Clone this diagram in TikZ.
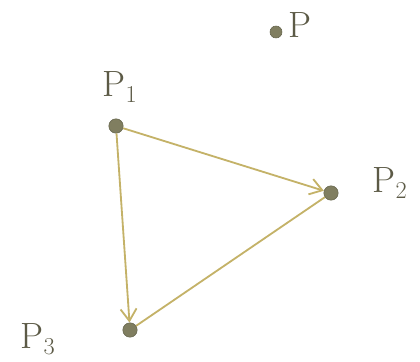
\documentclass[tikz,border=0pt]{standalone}
\usetikzlibrary{arrows.meta}
\definecolor{dotc}{RGB}{128,126,96}
\definecolor{linec}{RGB}{196,178,104}
\definecolor{lblc}{RGB}{92,90,70}

\begin{document}
\begin{tikzpicture}[
  pt/.style={circle, fill=dotc, draw=dotc!80!black, inner sep=0pt, minimum size=0.36cm},
  lbl/.style={text=lblc, font=\fontsize{26}{28}\selectfont},
  edge/.style={draw=linec, line width=1.3pt},
  arr/.style={edge, -{Straight Barb[length=3mm, width=4mm, line width=1.3pt]}}
]
\useasboundingbox (0,0) rectangle (10.5,9.025);
\node[pt] (p1) at (2.9,5.875) {};
\node[pt] (p2) at (8.275,4.2) {};
\node[pt] (p3) at (3.25,0.775) {};
\node[pt, minimum size=0.3cm] (p) at (6.9,8.225) {};
\node[lbl] (l1) at (3.0,6.85) {P$_1$};
\node[lbl] (l2) at (9.75,4.45) {P$_2$};
\node[lbl] (l3) at (0.95,0.55) {P$_3$};
\node[lbl] (l) at (7.5,8.4) {P};
\draw[arr] (p1) -- (p2);
\draw[arr] (p1) -- (p3);
\draw[edge] (p2) -- (p3);
\end{tikzpicture}
\end{document}
